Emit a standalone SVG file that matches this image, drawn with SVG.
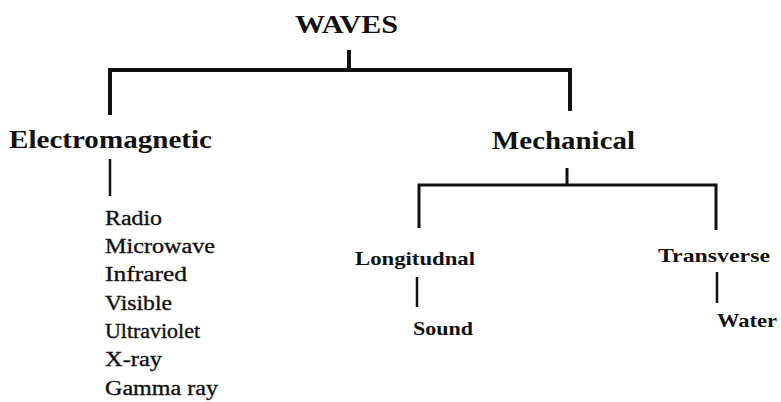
<svg xmlns="http://www.w3.org/2000/svg" width="781" height="402" viewBox="0 0 781 402">
<defs>
<style>
.c{fill:none;stroke:#111;stroke-linecap:butt;stroke-linejoin:miter}
</style>
</defs>
<rect width="781" height="402" fill="#fff"/>
<g id="connectors">
<path class="c" stroke-width="4" d="M349 50V70M110 115V70H570V111"/>
<path class="c" stroke-width="2.5" d="M110 159V196"/>
<path class="c" stroke-width="3" d="M567 168V185M419 228V185H716V230"/>
<path class="c" stroke-width="2.5" d="M417 277V307M717 272V303"/>
</g>
<g id="waves"><text font-family="Liberation Serif" font-size="26" font-weight="bold" fill="#111" x="295" y="33" textLength="103" lengthAdjust="spacingAndGlyphs">WAVES</text></g>
<g id="electromagnetic"><text font-family="Liberation Serif" font-size="26" font-weight="bold" fill="#111" x="9" y="148" textLength="203" lengthAdjust="spacingAndGlyphs">Electromagnetic</text></g>
<g id="mechanical"><text font-family="Liberation Serif" font-size="26" font-weight="bold" fill="#111" x="492" y="149" textLength="143" lengthAdjust="spacingAndGlyphs">Mechanical</text></g>
<g id="em-list">
<text font-family="Liberation Serif" font-size="20" fill="#111" stroke="#111" stroke-width="0.35" x="105" y="225" textLength="57" lengthAdjust="spacingAndGlyphs">Radio</text>
<text font-family="Liberation Serif" font-size="20" fill="#111" stroke="#111" stroke-width="0.35" x="105" y="253" textLength="110" lengthAdjust="spacingAndGlyphs">Microwave</text>
<text font-family="Liberation Serif" font-size="20" fill="#111" stroke="#111" stroke-width="0.35" x="105" y="281" textLength="82" lengthAdjust="spacingAndGlyphs">Infrared</text>
<text font-family="Liberation Serif" font-size="20" fill="#111" stroke="#111" stroke-width="0.35" x="105" y="310" textLength="67" lengthAdjust="spacingAndGlyphs">Visible</text>
<text font-family="Liberation Serif" font-size="20" fill="#111" stroke="#111" stroke-width="0.35" x="105" y="338" textLength="95" lengthAdjust="spacingAndGlyphs">Ultraviolet</text>
<text font-family="Liberation Serif" font-size="20" fill="#111" stroke="#111" stroke-width="0.35" x="105" y="366" textLength="57" lengthAdjust="spacingAndGlyphs">X-ray</text>
<text font-family="Liberation Serif" font-size="20" fill="#111" stroke="#111" stroke-width="0.35" x="105" y="395" textLength="113" lengthAdjust="spacingAndGlyphs">Gamma ray</text>
</g>
<g id="longitudinal"><text font-family="Liberation Serif" font-size="19" font-weight="bold" fill="#111" x="355" y="265" textLength="120" lengthAdjust="spacingAndGlyphs">Longitudnal</text></g>
<g id="transverse"><text font-family="Liberation Serif" font-size="19" font-weight="bold" fill="#111" x="658" y="262" textLength="112" lengthAdjust="spacingAndGlyphs">Transverse</text></g>
<g id="sound"><text font-family="Liberation Serif" font-size="19" font-weight="bold" fill="#111" x="413" y="335" textLength="60" lengthAdjust="spacingAndGlyphs">Sound</text></g>
<g id="water"><text font-family="Liberation Serif" font-size="19" font-weight="bold" fill="#111" x="717" y="327" textLength="60" lengthAdjust="spacingAndGlyphs">Water</text></g>
</svg>
